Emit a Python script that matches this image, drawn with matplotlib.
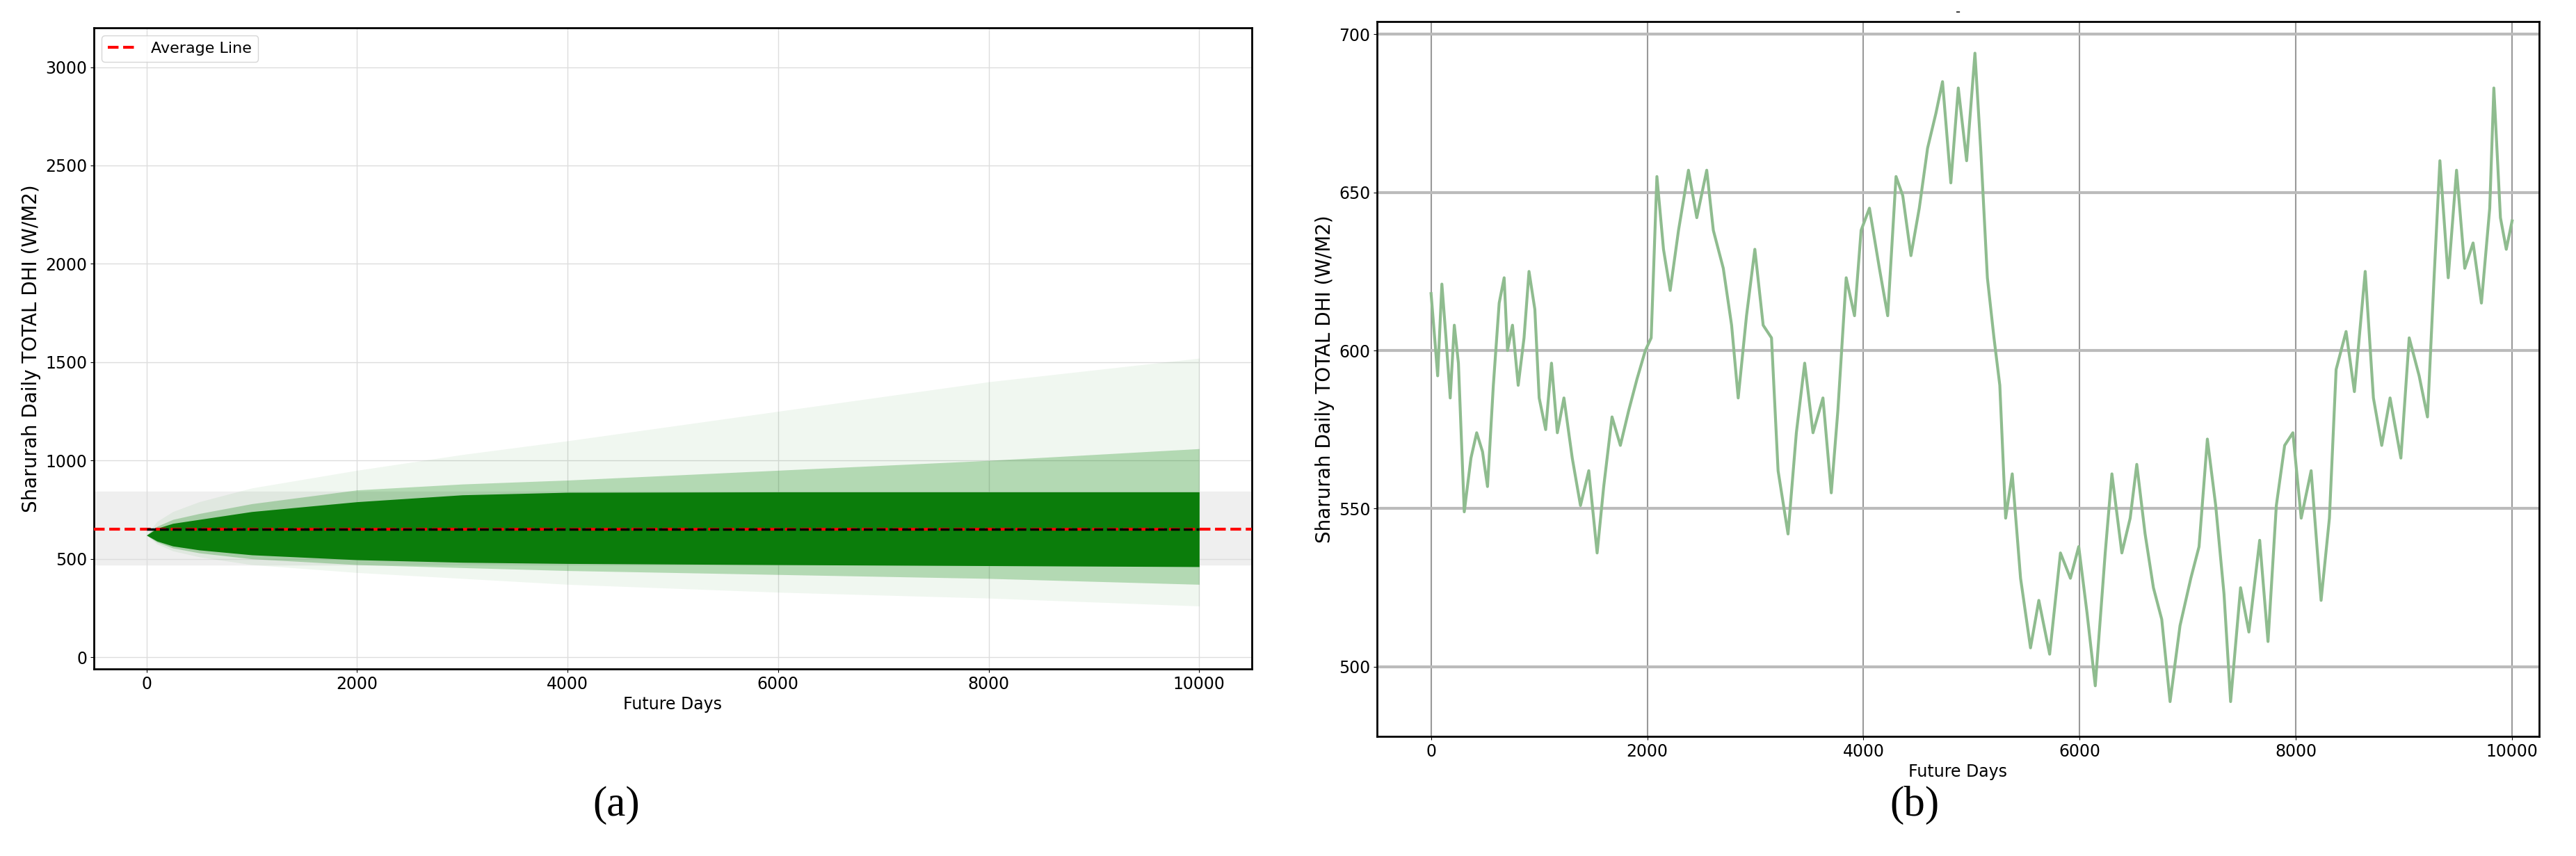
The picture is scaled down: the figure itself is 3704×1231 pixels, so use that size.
import numpy as np
import matplotlib
matplotlib.use("Agg")
import matplotlib.pyplot as plt

# panel (a): envelope of the simulated paths
env_x = [0, 100, 250, 500, 1000, 2000, 3000, 4000, 6000, 8000, 10000]
core_lo = [620, 590, 565, 545, 520, 495, 482, 476, 470, 465, 460]
core_hi = [620, 655, 680, 700, 740, 790, 825, 838, 840, 840, 840]
mid_lo = [620, 585, 555, 530, 500, 470, 455, 440, 420, 400, 370]
mid_hi = [620, 665, 700, 730, 780, 850, 880, 900, 950, 1000, 1060]
faint_lo = [620, 575, 540, 510, 470, 430, 400, 370, 330, 300, 260]
faint_hi = [620, 690, 740, 790, 860, 950, 1030, 1100, 1250, 1400, 1520]
avg_value = 650

# panel (b): one path
days_b = [0, 38, 61, 100, 138, 177, 215, 253, 307, 369, 422, 476, 522, 576, 630, 676, 707, 753, 806, 860,
          906, 960, 1000, 1060, 1114, 1168, 1229, 1306, 1382, 1459, 1536, 1597, 1674, 1751, 1828, 1905, 1982,
          2036, 2089, 2150, 2212, 2289, 2381, 2458, 2550, 2611, 2703, 2780, 2841, 2918, 2995, 3072, 3149, 3210,
          3302, 3379, 3456, 3533, 3625, 3702, 3763, 3840, 3917, 3978, 4055, 4147, 4224, 4301, 4363, 4439, 4516,
          4593, 4670, 4731, 4808, 4877, 4954, 5031, 5084, 5146, 5207, 5261, 5315, 5376, 5453, 5545, 5622, 5722,
          5822, 5914, 5991, 6068, 6144, 6236, 6298, 6390, 6467, 6528, 6605, 6682, 6759, 6836, 6928, 7028, 7104,
          7181, 7258, 7335, 7396, 7488, 7565, 7665, 7742, 7819, 7896, 7972, 8049, 8141, 8233, 8310, 8372, 8464,
          8541, 8641, 8717, 8794, 8871, 8971, 9048, 9140, 9217, 9278, 9332, 9409, 9486, 9562, 9639, 9716, 9793,
          9831, 9892, 9946, 10000]
dhi_b = [618, 602, 592, 621, 604, 585, 608, 596, 549, 566, 574, 568, 557, 589, 615, 623, 600, 608, 589, 604,
         625, 613, 585, 575, 596, 574, 585, 566, 551, 562, 536, 557, 579, 570, 581, 591, 600,
         604, 655, 632, 619, 638, 657, 642, 657, 638, 626, 608, 585, 611, 632, 608, 604, 562,
         542, 574, 596, 574, 585, 555, 581, 623, 611, 638, 645, 626, 611, 655, 649, 630, 645,
         664, 675, 685, 653, 683, 660, 694, 664, 623, 604, 589, 547, 561, 528, 506, 521, 504,
         536, 528, 538, 517, 494, 536, 561, 536, 547, 564, 542, 525, 515, 489, 513, 528, 538,
         572, 551, 523, 489, 525, 511, 540, 508, 551, 570, 574, 547, 562, 521, 547, 594, 606,
         587, 625, 585, 570, 585, 566, 604, 592, 579, 623, 660, 623, 657, 626, 634, 615, 645,
         683, 642, 632, 641]

narrow = ["Liberation Sans Narrow", "DejaVu Sans"]

fig = plt.figure(figsize=(37.05, 12.31), dpi=100)
ax1 = fig.add_axes([135 / 3705, 1 - 962 / 1231, 1665 / 3705, 922 / 1231])
ax2 = fig.add_axes([1980 / 3705, 1 - 1059 / 1231, 1671 / 3705, 1028 / 1231])

# (a)
ax1.axhspan(470, 840, color="#efefef", zorder=0)
ax1.fill_between(env_x, faint_lo, faint_hi, color="green", alpha=0.06, lw=0, zorder=1)
ax1.fill_between(env_x, mid_lo, mid_hi, color="green", alpha=0.25, lw=0, zorder=2)
ax1.fill_between(env_x, core_lo, core_hi, color="#0b7d0b", alpha=1.0, lw=0, zorder=3)
ax1.axhline(avg_value, color="red", ls="--", lw=3, label="Average Line", zorder=4)
ax1.plot([env_x[0], env_x[-1]], [avg_value, avg_value], color="black", ls="--", lw=2.5, zorder=5)
ax1.set_xlim(-500, 10500)
ax1.set_ylim(-60, 3200)
ax1.set_yticks([0, 500, 1000, 1500, 2000, 2500, 3000])
ax1.set_xticks([0, 2000, 4000, 6000, 8000, 10000])
ax1.grid(True, color="#dddddd", lw=1)
ax1.set_axisbelow(True)
ax1.set_xlabel("Future Days", fontsize=17, family=narrow)
ax1.set_ylabel("Sharurah Daily TOTAL DHI (W/M2)", fontsize=20, family="DejaVu Sans")
ax1.legend(loc="upper left", prop={"family": narrow, "size": 16})

# (b)
ax2.plot(days_b, dhi_b, color="#8fbc8f", lw=3)
ax2.set_xlim(-500, 10250)
ax2.set_ylim(478, 704)
ax2.set_yticks([500, 550, 600, 650, 700])
ax2.set_xticks([0, 2000, 4000, 6000, 8000, 10000])
ax2.grid(True, axis="x", color="#999999", lw=1.5)
ax2.grid(True, axis="y", color="#bbbbbb", lw=3)
ax2.set_xlabel("Future Days", fontsize=17, family=narrow)
ax2.set_ylabel("Sharurah Daily TOTAL DHI (W/M2)", fontsize=20, family="DejaVu Sans")
ax2.set_title("-", fontsize=14)

for ax in (ax1, ax2):
    for lab in ax.get_xticklabels() + ax.get_yticklabels():
        lab.set_family(narrow)
        lab.set_fontsize(17)
    for s in ax.spines.values():
        s.set_linewidth(2)

fig.text(886 / 3705, 1 - 1158 / 1231, "(a)", ha="center", va="center", fontsize=44, family="Liberation Serif")
fig.text(2753 / 3705, 1 - 1158 / 1231, "(b)", ha="center", va="center", fontsize=44, family="Liberation Serif")

fig.savefig("out.png", dpi=100)
